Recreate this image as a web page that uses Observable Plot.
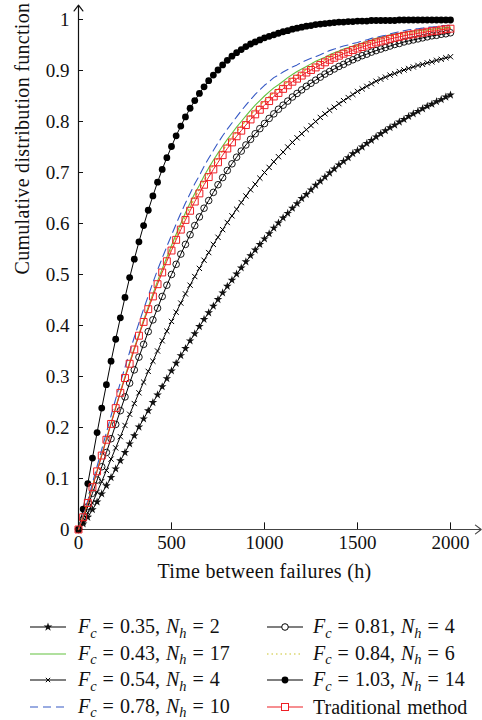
<!DOCTYPE html>
<html>
<head>
<meta charset="utf-8">
<script src="https://cdn.jsdelivr.net/npm/d3@7"></script>
<script src="https://cdn.jsdelivr.net/npm/@observablehq/plot@0.6"></script>
<style>
  html, body { margin: 0; padding: 0; background: #fff; overflow: hidden; }
  #chart svg { display: block; }
  #legend { position: relative; width: 482px; height: 120px; font-family: "Liberation Serif", serif; font-size: 20px; color: #111; }
  .item { position: absolute; height: 26px; line-height: 26px; white-space: nowrap; display: flex; align-items: center; word-spacing: 1px; }
  .item svg { display: block; margin-right: 12px; }
  .sub { font-size: 0.72em; font-style: italic; position: relative; top: 0.32em; }
  .title { letter-spacing: 0.3px; }
</style>
</head>
<body>
<div id="chart"></div>
<div id="legend"></div>
<script>
// ---- data ----
const times = [0,25,50,75,100,125,150,175,200,225,250,275,300,325,350,375,400,425,450,475,500,525,550,575,600,625,650,675,700,725,750,775,800,825,850,875,900,925,950,975,1000,1025,1050,1075,1100,1125,1150,1175,1200,1225,1250,1275,1300,1325,1350,1375,1400,1425,1450,1475,1500,1525,1550,1575,1600,1625,1650,1675,1700,1725,1750,1775,1800,1825,1850,1875,1900,1925,1950,1975,2000];

const fc035 = [0,0.011,0.024,0.039,0.054,0.070,0.086,0.102,0.119,0.135,0.151,0.168,0.184,0.201,0.217,0.233,0.249,0.264,0.280,0.296,0.311,0.326,0.341,0.355,0.370,0.384,0.398,0.412,0.425,0.438,0.451,0.464,0.477,0.489,0.501,0.513,0.525,0.537,0.548,0.559,0.570,0.580,0.591,0.601,0.611,0.620,0.630,0.639,0.649,0.657,0.666,0.675,0.683,0.691,0.699,0.707,0.715,0.722,0.729,0.737,0.743,0.750,0.757,0.763,0.770,0.776,0.782,0.788,0.793,0.799,0.804,0.810,0.815,0.820,0.825,0.830,0.834,0.839,0.843,0.848,0.852];

const fc043 = [0,0.025,0.053,0.085,0.116,0.147,0.178,0.209,0.240,0.270,0.300,0.328,0.356,0.383,0.411,0.436,0.462,0.487,0.511,0.534,0.557,0.579,0.600,0.621,0.640,0.659,0.675,0.693,0.709,0.724,0.738,0.752,0.765,0.777,0.789,0.800,0.811,0.822,0.832,0.841,0.850,0.858,0.866,0.872,0.879,0.886,0.892,0.898,0.903,0.908,0.913,0.918,0.922,0.926,0.931,0.935,0.938,0.942,0.945,0.948,0.951,0.954,0.957,0.960,0.963,0.965,0.967,0.970,0.972,0.973,0.975,0.976,0.977,0.978,0.979,0.980,0.981,0.982,0.983,0.984,0.985];

const fc054 = [0,0.014,0.033,0.052,0.073,0.094,0.116,0.138,0.160,0.182,0.204,0.226,0.247,0.268,0.289,0.310,0.330,0.350,0.370,0.389,0.408,0.426,0.444,0.462,0.479,0.496,0.512,0.528,0.543,0.559,0.573,0.588,0.602,0.615,0.628,0.641,0.654,0.666,0.677,0.689,0.700,0.710,0.721,0.731,0.740,0.750,0.759,0.768,0.776,0.784,0.792,0.800,0.808,0.815,0.822,0.828,0.835,0.841,0.847,0.853,0.859,0.864,0.869,0.874,0.879,0.883,0.887,0.891,0.894,0.898,0.901,0.904,0.907,0.910,0.912,0.915,0.917,0.920,0.922,0.925,0.927];

const fc078 = [0,0.026,0.057,0.091,0.124,0.157,0.190,0.223,0.256,0.288,0.318,0.348,0.377,0.405,0.432,0.458,0.484,0.509,0.532,0.555,0.577,0.599,0.620,0.640,0.659,0.678,0.694,0.712,0.728,0.743,0.758,0.772,0.785,0.797,0.809,0.821,0.832,0.843,0.853,0.862,0.871,0.878,0.886,0.891,0.897,0.902,0.907,0.911,0.916,0.920,0.924,0.927,0.931,0.935,0.939,0.942,0.945,0.948,0.950,0.953,0.955,0.958,0.960,0.963,0.965,0.967,0.969,0.972,0.974,0.976,0.978,0.980,0.981,0.982,0.983,0.985,0.985,0.986,0.988,0.988,0.989];

const fc081 = [0,0.020,0.045,0.071,0.097,0.123,0.151,0.178,0.206,0.233,0.260,0.287,0.313,0.338,0.363,0.388,0.411,0.434,0.457,0.479,0.500,0.520,0.540,0.559,0.578,0.596,0.613,0.630,0.645,0.661,0.676,0.690,0.704,0.717,0.730,0.742,0.754,0.765,0.776,0.786,0.796,0.806,0.815,0.824,0.832,0.840,0.848,0.855,0.862,0.869,0.875,0.881,0.887,0.893,0.898,0.903,0.908,0.912,0.917,0.921,0.925,0.929,0.932,0.936,0.939,0.942,0.945,0.948,0.951,0.953,0.956,0.958,0.960,0.962,0.964,0.966,0.968,0.969,0.971,0.972,0.974];

const fc084 = [0,0.024,0.052,0.084,0.115,0.146,0.177,0.208,0.239,0.269,0.298,0.326,0.354,0.381,0.409,0.434,0.459,0.484,0.507,0.530,0.552,0.573,0.594,0.614,0.632,0.651,0.667,0.684,0.700,0.715,0.729,0.743,0.756,0.768,0.780,0.791,0.802,0.813,0.823,0.832,0.841,0.849,0.857,0.864,0.871,0.878,0.885,0.891,0.896,0.902,0.907,0.912,0.916,0.921,0.926,0.930,0.933,0.937,0.940,0.944,0.947,0.950,0.953,0.956,0.959,0.961,0.963,0.966,0.968,0.970,0.971,0.973,0.974,0.975,0.976,0.978,0.979,0.980,0.981,0.982,0.983];

const fc103 = [0,0.040,0.090,0.140,0.190,0.238,0.284,0.330,0.373,0.415,0.455,0.494,0.530,0.564,0.596,0.626,0.654,0.681,0.706,0.729,0.751,0.772,0.791,0.809,0.826,0.841,0.855,0.868,0.880,0.891,0.901,0.911,0.920,0.928,0.935,0.941,0.947,0.952,0.956,0.960,0.964,0.967,0.970,0.973,0.976,0.978,0.981,0.983,0.985,0.987,0.988,0.990,0.991,0.992,0.993,0.994,0.995,0.995,0.996,0.996,0.997,0.997,0.997,0.998,0.998,0.998,0.998,0.998,0.998,0.999,0.999,0.999,0.999,0.999,0.999,0.999,0.999,0.999,0.999,0.999,0.999];

const traditional = [0,0.024,0.052,0.083,0.114,0.145,0.176,0.207,0.238,0.268,0.297,0.325,0.353,0.380,0.407,0.432,0.457,0.481,0.504,0.526,0.547,0.568,0.588,0.607,0.625,0.643,0.659,0.676,0.691,0.706,0.720,0.734,0.747,0.759,0.771,0.782,0.793,0.804,0.814,0.823,0.832,0.840,0.849,0.856,0.864,0.871,0.878,0.884,0.890,0.896,0.901,0.906,0.911,0.916,0.921,0.925,0.929,0.933,0.936,0.940,0.943,0.946,0.949,0.952,0.955,0.957,0.959,0.962,0.964,0.966,0.968,0.970,0.971,0.973,0.974,0.976,0.977,0.978,0.980,0.981,0.982];

const xTicks = [0, 500, 1000, 1500, 2000];
const yTicks = [0, 0.1, 0.2, 0.3, 0.4, 0.5, 0.6, 0.7, 0.8, 0.9, 1];
const xTitle = "Time between failures (h)";
const yTitle = "Cumulative distribution function";

// ---- build tables ----
const rows = (vals) => times.map((t, i) => ({t, F: vals[i]}));
const dStar = rows(fc035), dGreen = rows(fc043), dX = rows(fc054), dBlue = rows(fc078),
      dOpen = rows(fc081), dYellow = rows(fc084), dFilled = rows(fc103), dRed = rows(traditional);

const RED = "#ee1f25", GREEN = "#63c13f", BLUE = "#3558c4", YELLOW = "#c9c42a";
const enc = {x: "t", y: "F"};

const chart = Plot.plot({
  width: 482,
  height: 600,
  marginLeft: 78,
  marginRight: 32,
  marginTop: 19,
  marginBottom: 71,
  x: {domain: [0, 2000], axis: null},
  y: {domain: [0, 1], axis: null},
  style: {fontFamily: "'Liberation Serif', serif", fontSize: "19px", color: "#111", background: "#fff", overflow: "visible"},
  marks: [
    // axes lines with arrowheads
    Plot.arrow([0], {x1: 0, y1: 0, x2: 2165, y2: 0, stroke: "#444", strokeWidth: 1.2, headLength: 9, headAngle: 75}),
    Plot.arrow([0], {x1: 0, y1: 0, x2: 0, y2: 1.028, stroke: "#111", strokeWidth: 1.2, headLength: 9, headAngle: 75}),
    // ticks (inward)
    Plot.ruleX(xTicks, {x: d => d, y1: 0, y2: 0.013, stroke: "#111", strokeWidth: 1}),
    Plot.ruleY(yTicks, {y: d => d, x1: 0, x2: 27, stroke: "#111", strokeWidth: 1}),
    // tick labels
    Plot.text(xTicks, {x: d => d, frameAnchor: "bottom", dy: 19, text: d => String(d), fill: "#111"}),
    Plot.text(yTicks, {y: d => d, frameAnchor: "left", dx: -9, textAnchor: "end", text: d => String(d), fill: "#111"}),
    // axis titles
    Plot.text([xTitle], {frameAnchor: "bottom", dy: 48, text: d => d, fill: "#111", fontSize: 20, className: "title"}),
    Plot.text([yTitle], {frameAnchor: "left", dx: -56, rotate: -90, text: d => d, fill: "#111", fontSize: 20, className: "title"}),

    // series
    Plot.line(dFilled, {...enc, stroke: "#000", strokeWidth: 1}),
    Plot.dot(dFilled, {...enc, r: 3.4, fill: "#000", stroke: "none"}),

    Plot.line(dStar, {...enc, stroke: "#000", strokeWidth: 1}),
    Plot.dot(dStar, {...enc, symbol: "star", r: 2.7, fill: "#111", stroke: "none"}),

    Plot.line(dX, {...enc, stroke: "#000", strokeWidth: 1}),
    Plot.dot(dX, {...enc, symbol: "times", r: 2.5, stroke: "#000", strokeWidth: 1}),

    Plot.line(dOpen, {...enc, stroke: "#000", strokeWidth: 1}),
    Plot.dot(dOpen, {...enc, r: 3.3, fill: "none", stroke: "#000", strokeWidth: 0.9}),

    Plot.line(dGreen, {...enc, stroke: GREEN, strokeWidth: 1.1}),
    Plot.line(dBlue, {...enc, stroke: BLUE, strokeWidth: 1.1, strokeDasharray: "8,5"}),
    Plot.line(dYellow, {...enc, stroke: YELLOW, strokeWidth: 1.2, strokeDasharray: "1.5,3"}),

    Plot.line(dRed, {...enc, stroke: RED, strokeWidth: 1}),
    Plot.dot(dRed, {...enc, symbol: "square", r: 3.9, fill: "none", stroke: RED, strokeWidth: 1})
  ]
});
document.getElementById("chart").appendChild(chart);

// ---- legend ----
const legendItems = [
  {col: 0, row: 0, html: '<i>F</i><span class="sub">c</span> = 0.35, <i>N</i><span class="sub">h</span> = 2', stroke: "#000", dash: null, sym: "star"},
  {col: 0, row: 1, html: '<i>F</i><span class="sub">c</span> = 0.43, <i>N</i><span class="sub">h</span> = 17', stroke: GREEN, dash: null, sym: null},
  {col: 0, row: 2, html: '<i>F</i><span class="sub">c</span> = 0.54, <i>N</i><span class="sub">h</span> = 4', stroke: "#000", dash: null, sym: "times"},
  {col: 0, row: 3, html: '<i>F</i><span class="sub">c</span> = 0.78, <i>N</i><span class="sub">h</span> = 10', stroke: BLUE, dash: "8,5", sym: null},
  {col: 1, row: 0, html: '<i>F</i><span class="sub">c</span> = 0.81, <i>N</i><span class="sub">h</span> = 4', stroke: "#000", dash: null, sym: "open"},
  {col: 1, row: 1, html: '<i>F</i><span class="sub">c</span> = 0.84, <i>N</i><span class="sub">h</span> = 6', stroke: YELLOW, dash: "1.5,3", sym: null},
  {col: 1, row: 2, html: '<i>F</i><span class="sub">c</span> = 1.03, <i>N</i><span class="sub">h</span> = 14', stroke: "#000", dash: null, sym: "filled"},
  {col: 1, row: 3, html: 'Traditional method', stroke: RED, dash: null, sym: "square"}
];
const colLeft = [30, 267];
const rowTop = [14, 40.5, 67, 93.5];
const legend = document.getElementById("legend");
for (const it of legendItems) {
  const div = document.createElement("div");
  div.className = "item";
  div.style.left = colLeft[it.col] + "px";
  div.style.top = rowTop[it.row] + "px";
  let sym = "";
  if (it.sym === "star") sym = `<path transform="translate(18,7)" d="${d3.symbol(d3.symbolStar, 24)()}" fill="#111"/>`;
  if (it.sym === "times") sym = `<path transform="translate(18,7)" d="${d3.symbol(d3.symbolTimes, 14)()}" stroke="#000" fill="none"/>`;
  if (it.sym === "open") sym = `<circle cx="18" cy="7" r="3.3" fill="#fff" stroke="#000"/>`;
  if (it.sym === "filled") sym = `<circle cx="18" cy="7" r="3.4" fill="#000"/>`;
  if (it.sym === "square") sym = `<rect x="14.5" y="3.5" width="7" height="7" fill="#fff" stroke="${RED}"/>`;
  const w = 36;
  div.innerHTML = `<svg width="${w}" height="14"><line x1="0" y1="7" x2="${w}" y2="7" stroke="${it.stroke}" stroke-width="1.1" ${it.dash ? `stroke-dasharray="${it.dash}"` : ""}/>${sym}</svg><span>${it.html}</span>`;
  if (it.col === 1) div.querySelector("svg").style.marginRight = "10px";
  legend.appendChild(div);
}
</script>
</body>
</html>
